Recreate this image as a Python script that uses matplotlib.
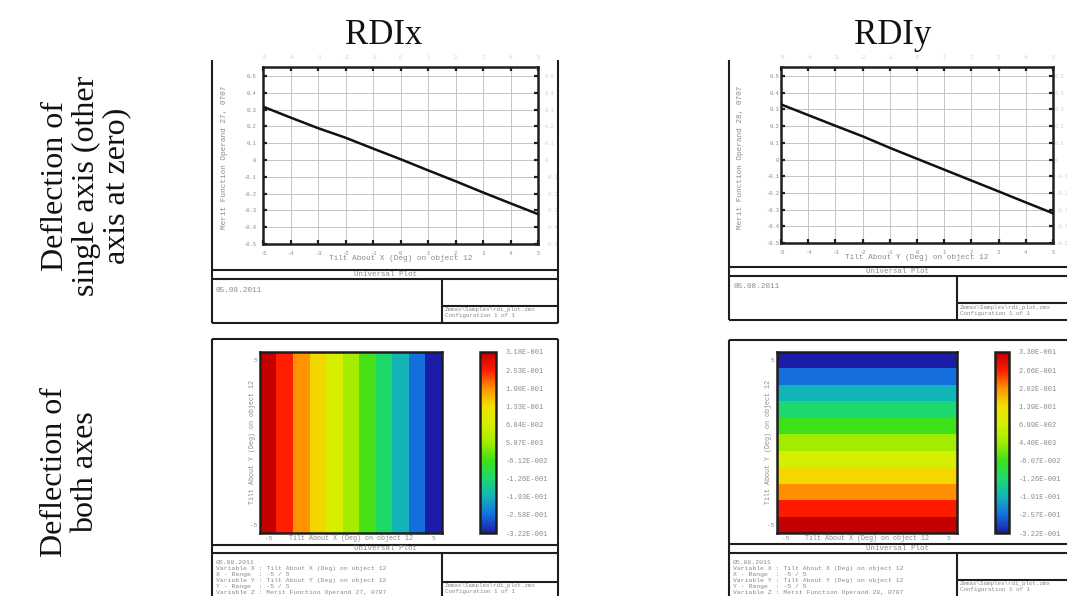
import numpy as np
import matplotlib
matplotlib.use("Agg")
import matplotlib.pyplot as plt
from matplotlib.lines import Line2D
from matplotlib.colors import LinearSegmentedColormap

# ---------------------------------------------------------------- data
tilt = [-5, -4, -3, -2, -1, 0, 1, 2, 3, 4, 5]
rdix = [0.318, 0.253, 0.190, 0.133, 0.0684, 0.00507, -0.0612, -0.126, -0.193, -0.258, -0.322]
rdiy = [0.330, 0.266, 0.202, 0.139, 0.0699, 0.0044, -0.0607, -0.126, -0.191, -0.257, -0.322]
line_yticks = [-0.5, -0.4, -0.3, -0.2, -0.1, 0.0, 0.1, 0.2, 0.3, 0.4, 0.5]
rdix_cbar_labels = ["3.18E-001", "2.53E-001", "1.90E-001", "1.33E-001", "6.84E-002", "5.07E-003",
                    "-6.12E-002", "-1.26E-001", "-1.93E-001", "-2.58E-001", "-3.22E-001"]
rdiy_cbar_labels = ["3.30E-001", "2.66E-001", "2.02E-001", "1.39E-001", "6.99E-002", "4.40E-003",
                    "-6.07E-002", "-1.26E-001", "-1.91E-001", "-2.57E-001", "-3.22E-001"]
col_titles = ["RDIx", "RDIy"]
row_titles = ["Deflection of\nsingle axis (other\naxis at zero)", "Deflection of\nboth axes"]

# Zemax-style false-colour palette
palette = LinearSegmentedColormap.from_list("zemax_fc", [
    (0.00, "#1c1ca8"), (0.10, "#1470e0"), (0.20, "#12b4b8"), (0.30, "#1ed870"),
    (0.40, "#3ee018"), (0.50, "#a2ec00"), (0.60, "#d4f000"), (0.70, "#f2e000"),
    (0.80, "#ff9400"), (0.90, "#ff1c00"), (1.00, "#c40000")])

# ---------------------------------------------------------------- canvas helpers (pixel coords, origin top-left)
W, H = 1067, 596
fig = plt.figure(figsize=(W / 100, H / 100), dpi=100)
fig.patch.set_facecolor("white")

INK = "#1e1e1e"
FAINT = "#8a8a8a"
MONO = ["Liberation Mono", "DejaVu Sans Mono"]
SERIF = ["Liberation Serif", "DejaVu Serif"]


def axes_px(x0, y0, x1, y1):
    return fig.add_axes([x0 / W, 1 - y1 / H, (x1 - x0) / W, (y1 - y0) / H])


def hline(y, x0, x1, lw=1.5, color=INK):
    fig.add_artist(Line2D([x0 / W, x1 / W], [1 - y / H] * 2, color=color, lw=lw,
                          transform=fig.transFigure, solid_capstyle="butt"))


def vline(x, y0, y1, lw=1.5, color=INK):
    fig.add_artist(Line2D([x / W] * 2, [1 - y0 / H, 1 - y1 / H], color=color, lw=lw,
                          transform=fig.transFigure, solid_capstyle="butt"))


def text_px(x, y, s, **kw):
    return fig.text(x / W, 1 - y / H, s, **kw)


def small(x, y, s, size=4.2, color=FAINT, **kw):
    return text_px(x, y, s, fontsize=size, color=color, family=MONO, **kw)


def file_box(split, h3):
    small(split + 3, h3 + 4, "Zemax\\Samples\\rdi_plot.zmx", size=4.2, ha="left", va="center")
    small(split + 3, h3 + 10, "Configuration 1 of 1", size=4.2, ha="left", va="center")


# ---------------------------------------------------------------- headings
for cx, t in zip([384, 893], col_titles):
    text_px(cx, 44, t, fontsize=25, family=SERIF, ha="center", va="baseline", color="#111")

for (cx, cy), t in zip([(86, 186), (70, 472)], row_titles):
    text_px(cx, cy, t, fontsize=23, family=SERIF, rotation=90, ha="center", va="center",
            multialignment="center", linespacing=1.08, color="#111")


# ---------------------------------------------------------------- line plots (top row)
def line_panel(px, values, xlabel, ylabel, right_pad):
    x0, x1 = px["left"], px["right"]
    ax_x0, ax_y0, ax_x1, ax_y1 = px["ax"]
    ax = axes_px(ax_x0, ax_y0, ax_x1, ax_y1)
    ax.plot(tilt, values, color="#111", lw=1.8, zorder=3)
    ax.set_xlim(-5, 5)
    ax.set_ylim(-0.5, 0.554)
    ax.set_xticks(tilt)
    ax.set_yticks(line_yticks)
    ax.set_xticklabels([str(t) for t in tilt])
    ax.set_yticklabels(["0" if v == 0 else f"{v:.1f}" for v in line_yticks])
    ax.grid(True, color="#c4c4c4", lw=0.7)
    ax.tick_params(direction="in", length=3, width=1.6, color=INK, top=True, right=True,
                   labeltop=True, labelright=True, labelsize=4.0, labelcolor=FAINT, pad=5)
    ax.tick_params(axis="y", which="both", pad=right_pad)
    for lab in ax.get_xticklabels() + ax.get_yticklabels():
        lab.set_family(MONO)
    for t in ax.xaxis.get_major_ticks() + ax.yaxis.get_major_ticks():
        t.label2.set_color("#d2d2d2")
        t.label2.set_family(MONO)
    for s in ax.spines.values():
        s.set_linewidth(1.8)
        s.set_color(INK)

    small((ax_x0 + ax_x1) / 2, px["xlabel_y"], xlabel, size=5.6, ha="center", va="center")
    small(x0 + 12, (ax_y0 + ax_y1) / 2 + 2, ylabel, size=5.6, ha="center", va="center", rotation=90)

    # frame and title block
    vline(x0, 60, px["bottom"])
    vline(x1, 60, px["bottom"])
    hline(px["h1"], x0, x1)
    hline(px["h2"], x0, x1)
    hline(px["bottom"], x0, x1)
    vline(px["split"], px["h2"], px["bottom"])
    hline(px["h3"], px["split"], x1)
    small((x0 + min(x1, 1067)) / 2, (px["h1"] + px["h2"]) / 2, "Universal Plot",
          size=5.4, ha="center", va="center")
    small(x0 + 4, px["h2"] + 11, "05.08.2011", size=5.6, ha="left", va="center")
    file_box(px["split"], px["h3"])


line_panel(dict(left=212, right=558, ax=(263, 67, 538, 244), xlabel_y=259,
                h1=270, h2=279, h3=306, split=442, bottom=323),
           rdix, "Tilt About X (Deg) on object 12", "Merit Function Operand 27, 0707", 5)
line_panel(dict(left=729, right=1080, ax=(781, 67, 1053, 243), xlabel_y=257,
                h1=267, h2=276, h3=303, split=957, bottom=320),
           rdiy, "Tilt About Y (Deg) on object 12", "Merit Function Operand 28, 0707", 1.5)


# ---------------------------------------------------------------- false-colour maps (bottom row)
def map_panel(px, grid, cbar_labels, zop):
    x0, x1 = px["left"], px["right"]
    vmin, vmax = float(np.min(grid)), float(np.max(grid))
    ax_x0, ax_y0, ax_x1, ax_y1 = px["ax"]
    ax = axes_px(ax_x0, ax_y0, ax_x1, ax_y1)
    im = ax.imshow(grid, cmap=palette, vmin=vmin, vmax=vmax, origin="lower",
                   extent=[-5.5, 5.5, -5.5, 5.5], aspect="auto", interpolation="nearest")
    ax.set_xticks([-5, 5])
    ax.set_yticks([-5, 5])
    ax.set_xticklabels(["-5", "5"])
    ax.set_yticklabels(["-5", "5"])
    ax.tick_params(length=0, labelsize=4.4, labelcolor=FAINT, pad=2)
    for lab in ax.get_xticklabels() + ax.get_yticklabels():
        lab.set_family(MONO)
    for s in ax.spines.values():
        s.set_linewidth(1.8)
        s.set_color(INK)

    cax = axes_px(*px["cax"])
    cb = fig.colorbar(im, cax=cax)
    cb.set_ticks(np.linspace(vmax, vmin, len(cbar_labels)))
    cb.set_ticklabels(cbar_labels)
    cb.ax.tick_params(length=0, labelsize=5.0, labelcolor=FAINT, pad=7)
    for lab in cb.ax.get_yticklabels():
        lab.set_family(MONO)
    cb.outline.set_linewidth(1.8)
    cb.outline.set_edgecolor(INK)

    small((ax_x0 + ax_x1) / 2, ax_y1 + 5, "Tilt About X (Deg) on object 12",
          size=4.8, ha="center", va="center")
    small(ax_x0 - 8, (ax_y0 + ax_y1) / 2, "Tilt About Y (Deg) on object 12",
          size=4.8, ha="center", va="center", rotation=90)

    top = px["top"]
    vline(x0, top, 596)
    vline(x1, top, 596)
    hline(top, x0, x1)
    hline(px["h1"], x0, x1)
    hline(px["h2"], x0, x1)
    vline(px["split"], px["h2"], 596)
    hline(px["h3"], px["split"], x1)
    small((x0 + min(x1, 1067)) / 2, (px["h1"] + px["h2"]) / 2, "Universal Plot",
          size=5.4, ha="center", va="center")
    info = ["05.08.2011",
            "Variable X : Tilt About X (Deg) on object 12",
            "X - Range  : -5 / 5",
            "Variable Y : Tilt About Y (Deg) on object 12",
            "Y - Range  : -5 / 5",
            "Variable Z : Merit Function Operand %d, 0707" % zop]
    for i, s in enumerate(info):
        small(x0 + 4, px["h2"] + 10 + i * 5.9, s, size=4.6, ha="left", va="center")
    file_box(px["split"], px["h3"])


grid_x = np.tile(np.array(rdix), (len(tilt), 1))          # varies with X tilt only
grid_y = np.tile(np.array(rdiy)[:, None], (1, len(tilt)))  # varies with Y tilt only

map_panel(dict(left=212, right=558, top=339, ax=(260, 352, 442, 533), cax=(480, 352, 496, 533),
               h1=545, h2=553, h3=582, split=442),
          grid_x, rdix_cbar_labels, 27)
map_panel(dict(left=729, right=1080, top=340, ax=(777, 352, 957, 533), cax=(995, 352, 1009, 533),
               h1=544, h2=553, h3=580, split=957),
          grid_y, rdiy_cbar_labels, 28)

fig.savefig("out.png", dpi=100, facecolor="white")
